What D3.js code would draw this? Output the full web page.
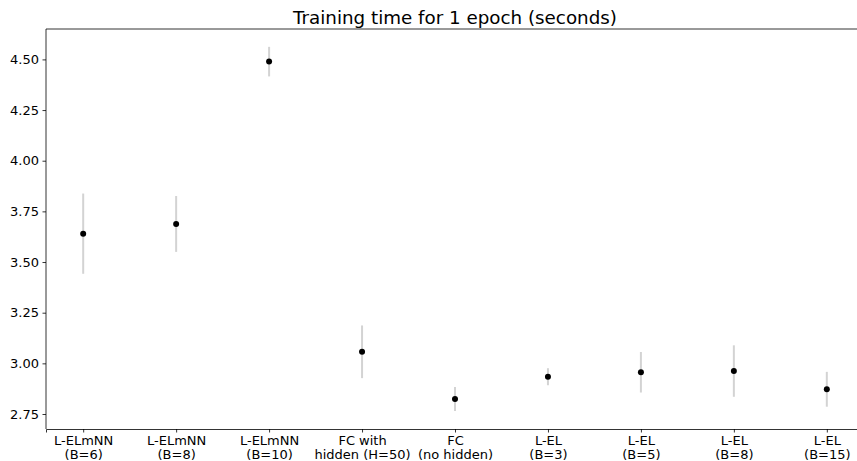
<!DOCTYPE html>
<html>
<head>
<meta charset="utf-8">
<script src="https://cdn.jsdelivr.net/npm/d3@7"></script>
<style>
  body { margin: 0; background: #fff; }
  text { font-family: "DejaVu Sans", sans-serif; fill: #000; }
</style>
</head>
<body>
<svg id="chart" width="857" height="461"></svg>
<script>
const labels = [
    ['L-ELmNN', '(B=6)'], ['L-ELmNN', '(B=8)'], ['L-ELmNN', '(B=10)'],
    ['FC with', 'hidden (H=50)'], ['FC', '(no hidden)'],
    ['L-EL', '(B=3)'], ['L-EL', '(B=5)'], ['L-EL', '(B=8)'], ['L-EL', '(B=15)']
]
const means = [3.640, 3.688, 4.489, 3.057, 2.824, 2.934, 2.956, 2.962, 2.872]
const errs = [0.198, 0.138, 0.073, 0.130, 0.059, 0.042, 0.100, 0.127, 0.086]
const yTicks = [2.75, 3.00, 3.25, 3.50, 3.75, 4.00, 4.25, 4.50]

const margin = {left: 46, top: 29, bottom: 32}
const H = 461
const plotW = 818
const svg = d3.select('#chart')

const x = d3.scaleLinear().domain([-0.4, labels.length - 0.6]).range([margin.left, margin.left + plotW])
const y = d3.scaleLinear().domain([2.676, 4.650]).range([H - margin.bottom, margin.top])

// error bars
svg.selectAll('.err')
    .data(means)
    .enter()
        .append('line')
        .attr('class', 'err')
        .attr('x1', (d, i) => x(i))
        .attr('x2', (d, i) => x(i))
        .attr('y1', (d, i) => y(d - errs[i]))
        .attr('y2', (d, i) => y(d + errs[i]))
        .attr('stroke', '#d3d3d3')
        .attr('stroke-width', 2)

svg.selectAll('.pt')
    .data(means)
    .enter()
        .append('circle')
        .attr('class', 'pt')
        .attr('cx', (d, i) => x(i))
        .attr('cy', d => y(d))
        .attr('r', 3)
        .attr('fill', '#000')

// axes
const yAxis = svg.append('g')
    .attr('transform', `translate(${margin.left},0)`)
    .call(d3.axisLeft(y).tickValues(yTicks).tickFormat(d3.format('.2f')).tickSize(3.5).tickPadding(3.5))
const xAxis = svg.append('g')
    .attr('transform', `translate(0,${H - margin.bottom})`)
    .call(d3.axisBottom(x).tickValues(d3.range(labels.length)).tickFormat('').tickSize(3.5))

;[yAxis, xAxis].forEach(g => {
    g.selectAll('path, line').attr('stroke', '#000').attr('stroke-width', 0.8)
    g.selectAll('text').style('font-size', '13px').attr('fill', '#000')
})
yAxis.select('.domain').attr('d', `M0,${margin.top}V${H - margin.bottom}`)

xAxis.selectAll('.tick').each(function(d) {
    const t = d3.select(this).append('text')
        .attr('text-anchor', 'middle')
        .style('font-size', '13px')
    t.append('tspan').attr('x', 0).attr('y', 15.5).text(labels[d][0])
    t.append('tspan').attr('x', 0).attr('y', 29.5).text(labels[d][1])
})

// top spine
svg.append('line')
    .attr('x1', margin.left).attr('x2', margin.left + plotW)
    .attr('y1', margin.top).attr('y2', margin.top)
    .attr('stroke', '#000').attr('stroke-width', 0.8)

svg.append('text')
    .attr('x', margin.left + plotW / 2)
    .attr('y', 24)
    .attr('text-anchor', 'middle')
    .style('font-size', '18.3px')
    .text('Training time for 1 epoch (seconds)')
</script>
</body>
</html>
